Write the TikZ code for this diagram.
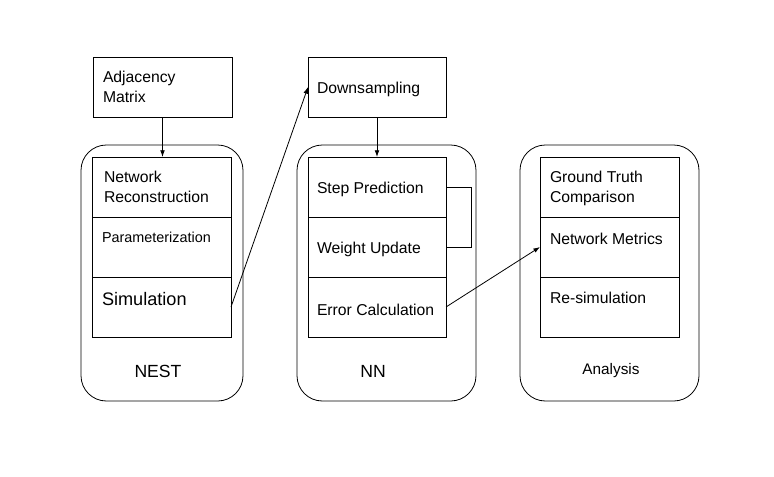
\documentclass[tikz,border=0pt]{standalone}
\usepackage{fontspec}
\setmainfont{Liberation Sans}
\usetikzlibrary{positioning,arrows.meta}

\begin{document}
\begin{tikzpicture}[
    x=0.75pt, y=-0.75pt, % one unit = one pixel of the reference, y pointing down
    line width=0.6pt,
    every node/.style={inner sep=0pt, outer sep=0pt},
    panel/.style={draw, rounded corners=19pt, minimum height=192pt},
    cell/.style={draw, minimum height=45pt},
    txt/.style={anchor=west, align=left, font=\fontsize{11.8}{15}\selectfont},
    title/.style={font=\fontsize{13.2}{15}\selectfont},
    arr/.style={-{Latex[length=5pt,width=3.5pt]}}
]
    \useasboundingbox (0,0) rectangle (774,476);

    % outer panels
    \node[panel, minimum width=121.5pt] (nest) at (162,273) {};
    \node[panel, minimum width=134.25pt] (nn) at (386.5,273) {};
    \node[panel, minimum width=134.25pt] (ana) at (609.5,273) {};

    % input boxes
    \node[cell, minimum width=104.25pt] (adj) at (162.5,87) {};
    \node[cell, minimum width=103.5pt] (down) at (377,87) {};

    % NEST column
    \node[cell, minimum width=104.25pt] (netrec) at (161.5,187) {};
    \node[cell, minimum width=104.25pt, below=0pt of netrec] (param) {};
    \node[cell, minimum width=104.25pt, below=0pt of param] (sim) {};

    % NN column
    \node[cell, minimum width=103.5pt] (step) at (377,187) {};
    \node[cell, minimum width=103.5pt, below=0pt of step] (weight) {};
    \node[cell, minimum width=103.5pt, below=0pt of weight] (error) {};

    % Analysis column
    \node[cell, minimum width=104.25pt] (truth) at (609.5,187) {};
    \node[cell, minimum width=104.25pt, below=0pt of truth] (metrics) {};
    \node[cell, minimum width=104.25pt, below=0pt of metrics] (resim) {};

    % texts
    \node[txt] (tadj) at ([shift={(10,-0.5)}]adj.west) {Adjacency\\Matrix};
    \node[txt] (tdown) at ([shift={(9,2.5)}]down.west) {Downsampling};
    \node[txt] (tnetrec) at ([shift={(12,-0.5)}]netrec.west) {Network\\Reconstruction};
    \node[txt, font=\fontsize{10.8}{13}\selectfont] (tparam) at ([shift={(10,-10)}]param.west) {Parameterization};
    \node[txt, font=\fontsize{13.6}{16}\selectfont] (tsim) at ([shift={(10,-8)}]sim.west) {Simulation};
    \node[txt] (tstep) at ([shift={(9,2.5)}]step.west) {Step Prediction};
    \node[txt] (tweight) at ([shift={(9,2.5)}]weight.west) {Weight Update};
    \node[txt] (terror) at ([shift={(9,2.5)}]error.west) {Error Calculation};
    \node[txt] (ttruth) at ([shift={(10,1)}]truth.west) {Ground Truth\\Comparison};
    \node[txt] (tmetrics) at ([shift={(10,-8.5)}]metrics.west) {Network Metrics};
    \node[txt] (tresim) at ([shift={(10,-9.5)}]resim.west) {Re-simulation};

    % panel titles
    \node[title] (lnest) at (158,371) {NEST};
    \node[title] (lnn) at (373,371) {NN};
    \node[font=\fontsize{11.5}{14}\selectfont] (lana) at (611,371) {Analysis};

    % connectors
    \draw[arr] (adj.south) -- (adj.south |- netrec.north);
    \draw[arr] (down) -- (step);
    \draw[arr] (sim.east) -- (down.west);
    \draw (step.east) -- ++(25,0) |- (weight.east);
    \draw[arr] (error.east) -- (metrics.west);
\end{tikzpicture}
\end{document}
